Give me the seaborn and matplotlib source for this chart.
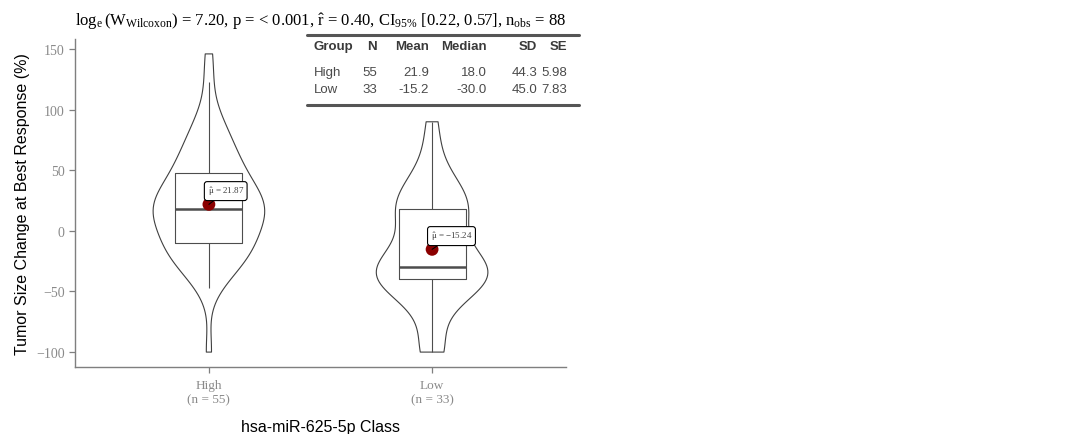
import numpy as np
import pandas as pd
import matplotlib
matplotlib.use("Agg")
import matplotlib.pyplot as plt
from matplotlib.lines import Line2D
import seaborn as sns

# Tumor size change at best response (%), by hsa-miR-625-5p expression class
groups = ["High", "Low"]
high_values = [-100, -47, -40, -35, -30, -28, -25, -22, -20, -18, -15, -13, -12,
               -10, -10, -5, -2, 0, 3, 5, 8, 10, 12, 13, 15, 16, 17, 18, 20, 22,
               24, 25, 27, 29, 30, 32, 35, 38, 40, 43, 47, 49, 52, 55, 58, 62, 66,
               70, 74, 78, 85, 90, 98, 123, 146]
low_values = [-100, -100, -92, -62, -52, -47, -44, -42, -40, -38, -36, -35, -34,
              -33, -32, -31, -30, -25, -18, -12, 0, 8, 13, 16, 18, 20, 23, 30,
              33, 38, 44, 67, 90]

# Two-sample test summary
w_log = "7.20"
p_text = "< 0.001"
r_hat = "0.40"
ci_text = "[0.22, 0.57]"

x_title = "hsa-miR-625-5p Class"
y_title = "Tumor Size Change at Best Response (%)"
y_ticks = [-100, -50, 0, 50, 100, 150]

df = pd.DataFrame({
    "group": ["High"] * len(high_values) + ["Low"] * len(low_values),
    "value": high_values + low_values,
})

sns.set_theme(style="white")
plt.rcParams["font.family"] = ["Liberation Serif", "DejaVu Serif"]
plt.rcParams["mathtext.fontset"] = "custom"
plt.rcParams["mathtext.rm"] = "Liberation Serif"
plt.rcParams["mathtext.it"] = "Liberation Serif"
plt.rcParams["mathtext.bf"] = "Liberation Serif:bold"

W, H = 1077, 435
fig = plt.figure(figsize=(W / 100, H / 100), dpi=100)
ax = fig.add_axes([75 / W, 1 - 368 / H, (566 - 75) / W, (368 - 40) / H])

sns.violinplot(data=df, x="group", y="value", order=groups, inner=None, cut=0,
               width=0.5, density_norm="width", bw_adjust=0.87, fill=False,
               color="0.25", linewidth=0.8, ax=ax)
sns.boxplot(data=df, x="group", y="value", order=groups, width=0.3,
            showfliers=False, showcaps=False, fill=False, color="0.3",
            linewidth=0.8, medianprops=dict(linewidth=1.8), ax=ax)

stats = df.groupby("group")["value"].agg(["count", "mean", "median", "std"]).reindex(groups)
stats["se"] = stats["std"] / np.sqrt(stats["count"])

ax.scatter(range(len(groups)), stats["mean"], s=85, color="#8B0000", zorder=6,
           edgecolor="none")
for i, m in enumerate(stats["mean"]):
    ax.annotate(r"$\hat{\mu}$" + f" = {m:.2f}".replace("-", "\u2212"),
                xy=(i, m), xytext=(-1, 5), textcoords="offset points",
                ha="left", va="bottom", fontsize=6.5, color="0.25",
                bbox=dict(boxstyle="round,pad=0.35,rounding_size=0.3",
                          fc="white", ec="black", lw=0.8),
                arrowprops=dict(arrowstyle="-", color="black", lw=0.8,
                                shrinkA=0, shrinkB=0),
                zorder=7)

ax.set_xlim(-0.6, 1.6)
ax.set_ylim(-112.3, 158.3)
ax.set_yticks(y_ticks)
ax.set_yticklabels([str(t).replace("-", "\u2212") for t in y_ticks])
ax.set_xticks(range(len(groups)))
ax.set_xticklabels([f"{g}\n(n = {int(n)})" for g, n in zip(groups, stats["count"])])

for side in ["top", "right"]:
    ax.spines[side].set_visible(False)
for side in ["left", "bottom"]:
    ax.spines[side].set_color("#7f7f7f")
    ax.spines[side].set_linewidth(1.0)
ax.tick_params(axis="both", which="both", length=4, width=0.9, color="#7f7f7f",
               labelcolor="#8a8a8a", direction="out", left=True, bottom=True)
ax.tick_params(axis="y", labelsize=10)
ax.tick_params(axis="x", labelsize=9.5, pad=5)

ax.set_xlabel(x_title, family="Liberation Sans", fontsize=11.5, color="black",
              labelpad=10)
ax.set_ylabel(y_title, family="Liberation Sans", fontsize=11.5, color="black",
              labelpad=4)

n_obs = len(df)
title = (r"$\log_{e}(W_{\mathrm{Wilcoxon}})$" + f" = {w_log}, " +
         r"$p$" + f" = {p_text}, " + r"$\hat{r}$" + f" = {r_hat}, " +
         r"CI$_{95\%}$" + f" {ci_text}, " + r"$n_{\mathrm{obs}}$" + f" = {n_obs}")
fig.text(75 / W, 1 - 26 / H, title, fontsize=12, color="black", ha="left",
         va="baseline")

# Descriptive statistics table
header = ["Group", "N", "Mean", "Median", "SD", "SE"]
rows = [[g, f"{int(r['count'])}", f"{r['mean']:.1f}", f"{r['median']:.1f}",
         f"{r['std']:.1f}", f"{r['se']:.2f}"] for g, r in stats.iterrows()]
col_right = [None, 377, 429, 487, 537, 567]
col_left_x = 314
tab_y = [47, 73, 90]


def fx(px):
    return px / W


def fy(py):
    return 1 - py / H


for j, name in enumerate(header):
    fig.text(fx(col_left_x if j == 0 else col_right[j]), fy(tab_y[0]), name,
             ha="left" if j == 0 else "right", va="center",
             family="Liberation Sans", weight="bold", fontsize=9.5, color="#3a3a3a")
for i, row in enumerate(rows):
    for j, val in enumerate(row):
        fig.text(fx(col_left_x if j == 0 else col_right[j]), fy(tab_y[i + 1]), val,
                 ha="left" if j == 0 else "right", va="center",
                 family="Liberation Sans", fontsize=9.5, color="#4a4a4a")
for ry in [36, 106]:
    fig.add_artist(Line2D([fx(307), fx(579)], [fy(ry), fy(ry)], color="#555555",
                          lw=2.2, transform=fig.transFigure))

fig.savefig("out.png", dpi=100, facecolor="white")
